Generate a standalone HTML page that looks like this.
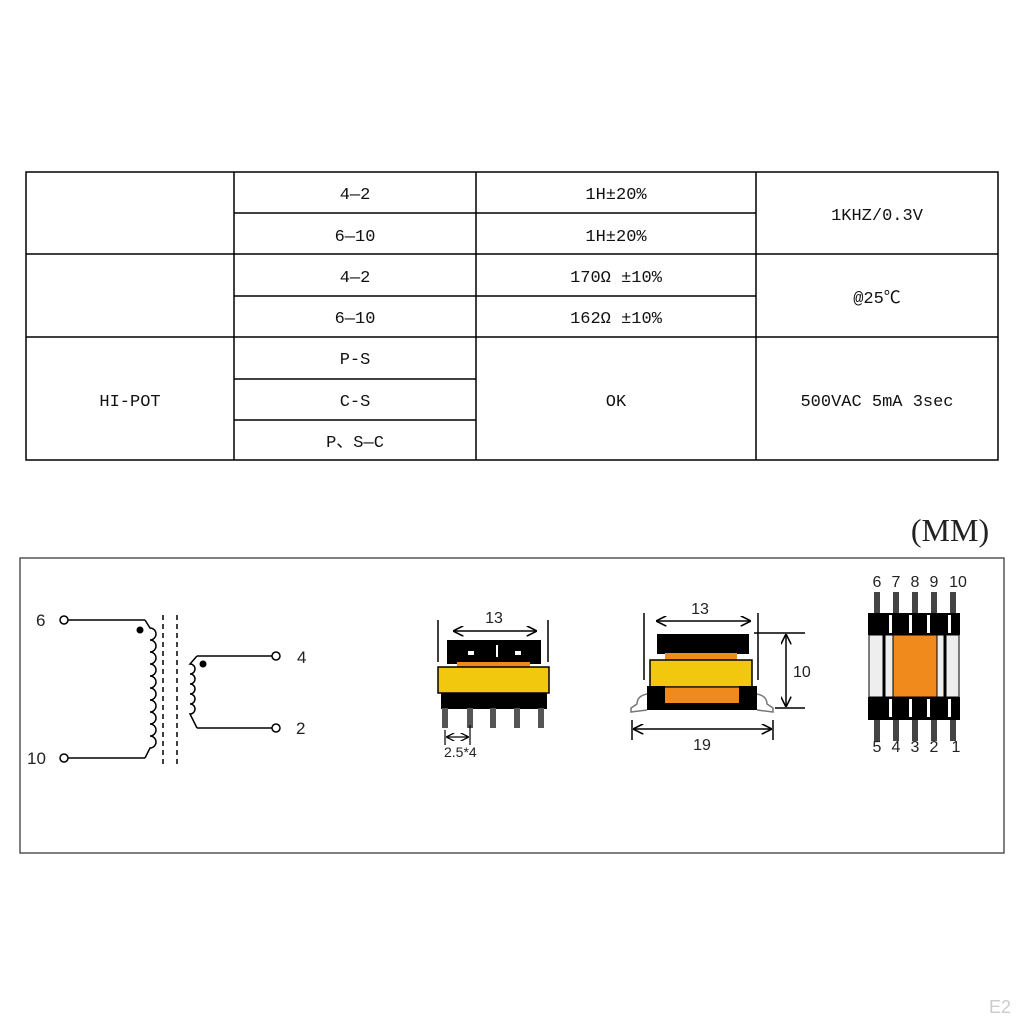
<!DOCTYPE html>
<html><head><style>
body{margin:0;background:#fff;}
svg text{font-family:"Liberation Mono","Noto Sans CJK SC",monospace;}
svg .s text, svg text.s{font-family:"Liberation Sans",sans-serif;}
</style></head><body>
<svg width="1024" height="1024" viewBox="0 0 1024 1024" xmlns="http://www.w3.org/2000/svg">
<defs>
<marker id="a" viewBox="0 0 10 10" refX="9" refY="5" markerWidth="7" markerHeight="7" orient="auto-start-reverse"><path d="M0,0 L10,5 L0,10" fill="none" stroke="#000" stroke-width="1.5"/></marker>
</defs>
<g stroke="#000" stroke-width="1.5" fill="none">
<rect x="26" y="172" width="972" height="288"/>
<line x1="234" y1="172" x2="234" y2="460"/>
<line x1="476" y1="172" x2="476" y2="460"/>
<line x1="756" y1="172" x2="756" y2="460"/>
<line x1="26" y1="254" x2="998" y2="254"/>
<line x1="26" y1="337" x2="998" y2="337"/>
<line x1="234" y1="213" x2="756" y2="213"/>
<line x1="234" y1="296" x2="756" y2="296"/>
<line x1="234" y1="379" x2="476" y2="379"/>
<line x1="234" y1="420" x2="476" y2="420"/>
</g>
<g font-size="17" text-anchor="middle" fill="#111">
<text x="355" y="199">4—2</text><text x="616" y="199">1H±20%</text>
<text x="355" y="241">6—10</text><text x="616" y="241">1H±20%</text>
<text x="877" y="220">1KHZ/0.3V</text>
<text x="355" y="282">4—2</text><text x="616" y="282">170Ω ±10%</text>
<text x="355" y="323">6—10</text><text x="616" y="323">162Ω ±10%</text>
<text x="877" y="303">@25℃</text>
<text x="355" y="364">P-S</text><text x="355" y="406">C-S</text><text x="355" y="447">P、S—C</text>
<text x="130" y="406">HI-POT</text><text x="616" y="406">OK</text><text x="877" y="406">500VAC 5mA 3sec</text>
</g>
<text x="950" y="541" text-anchor="middle" font-size="32" style="font-family:'Liberation Serif',serif" fill="#222">(MM)</text>
<rect x="20" y="558" width="984" height="295" fill="none" stroke="#555" stroke-width="1.5"/>

<g stroke="#000" stroke-width="1.5" fill="none">
<circle cx="64" cy="620" r="4"/><line x1="68" y1="620" x2="145" y2="620"/>
<circle cx="64" cy="758" r="4"/><line x1="68" y1="758" x2="145" y2="758"/>
<path d="M145,620 L150,628 a6,6 0 0 1 0,12 a6,6 0 0 1 0,12 a6,6 0 0 1 0,12 a6,6 0 0 1 0,12 a6,6 0 0 1 0,12 a6,6 0 0 1 0,12 a6,6 0 0 1 0,12 a6,6 0 0 1 0,12 a6,6 0 0 1 0,12 a6,6 0 0 1 0,12 L145,758"/>
<line x1="163" y1="615" x2="163" y2="765" stroke-dasharray="5,4"/>
<line x1="177" y1="615" x2="177" y2="765" stroke-dasharray="5,4"/>
<line x1="197" y1="656" x2="272" y2="656"/><circle cx="276" cy="656" r="4"/>
<line x1="197" y1="728" x2="272" y2="728"/><circle cx="276" cy="728" r="4"/>
<path d="M197,656 L190,664 a5,5 0 0 1 0,10 a5,5 0 0 1 0,10 a5,5 0 0 1 0,10 a5,5 0 0 1 0,10 a5,5 0 0 1 0,10 L197,728"/>
</g>
<circle cx="140" cy="630" r="3.5"/><circle cx="203" cy="664" r="3.5"/>
<g class="s" font-size="17" fill="#222">
<text x="36" y="626">6</text><text x="27" y="764">10</text><text x="297" y="663">4</text><text x="296" y="734">2</text>
</g>

<g stroke="#000" stroke-width="1.5">
<line x1="438" y1="620" x2="438" y2="662"/><line x1="548" y1="620" x2="548" y2="662"/>
<line x1="454" y1="631" x2="536" y2="631" marker-start="url(#a)" marker-end="url(#a)"/>
</g>
<rect x="447" y="640" width="94" height="24" fill="#000"/>
<rect x="468" y="651" width="6" height="4" fill="#fff"/><rect x="515" y="651" width="6" height="4" fill="#fff"/>
<rect x="496" y="645" width="2" height="12" fill="#fff"/>
<rect x="457" y="662" width="73" height="6" fill="#f08a1c"/>
<rect x="438" y="667" width="111" height="26" fill="#f2c80e" stroke="#000" stroke-width="1.5"/>
<rect x="441" y="693" width="106" height="16" fill="#000"/>
<g fill="#555">
<rect x="442" y="708" width="6" height="20"/><rect x="467" y="708" width="6" height="20"/><rect x="490" y="708" width="6" height="20"/><rect x="514" y="708" width="6" height="20"/><rect x="538" y="708" width="6" height="20"/>
</g>
<g stroke="#000" stroke-width="1.2"><line x1="445" y1="730" x2="445" y2="745"/><line x1="470" y1="725" x2="470" y2="745"/>
<line x1="447" y1="737" x2="468" y2="737" marker-start="url(#a)" marker-end="url(#a)"/></g>
<g class="s" fill="#222">
<text x="494" y="623" font-size="16" text-anchor="middle">13</text>
<text x="444" y="757" font-size="14">2.5*4</text>
</g>

<g stroke="#000" stroke-width="1.5">
<line x1="644" y1="613" x2="644" y2="680"/><line x1="758" y1="613" x2="758" y2="680"/>
<line x1="657" y1="621" x2="750" y2="621" marker-start="url(#a)" marker-end="url(#a)"/>
<line x1="754" y1="633" x2="805" y2="633"/><line x1="775" y1="708" x2="805" y2="708"/>
<line x1="786" y1="635" x2="786" y2="706" marker-start="url(#a)" marker-end="url(#a)"/>
<line x1="632" y1="720" x2="632" y2="740"/><line x1="773" y1="720" x2="773" y2="740"/>
<line x1="634" y1="729" x2="771" y2="729" marker-start="url(#a)" marker-end="url(#a)"/>
</g>
<rect x="657" y="634" width="92" height="20" fill="#000"/>
<rect x="665" y="653" width="72" height="8" fill="#f08a1c"/>
<rect x="650" y="660" width="102" height="27" fill="#f2c80e" stroke="#000" stroke-width="1.5"/>
<rect x="647" y="686" width="18" height="24" fill="#000"/><rect x="739" y="686" width="18" height="24" fill="#000"/>
<rect x="665" y="688" width="74" height="15" fill="#f08a1c"/><rect x="665" y="703" width="74" height="7" fill="#000"/>
<path d="M647,694 q-10,2 -10,10 l-6,4 l0,4 l16,-2" fill="none" stroke="#777" stroke-width="1.5"/>
<path d="M757,694 q10,2 10,10 l6,4 l0,4 l-16,-2" fill="none" stroke="#777" stroke-width="1.5"/>
<g class="s" fill="#222" font-size="16">
<text x="700" y="614" text-anchor="middle">13</text>
<text x="793" y="677">10</text>
<text x="702" y="750" text-anchor="middle">19</text>
</g>

<g fill="#444">
<rect x="874" y="592" width="6" height="22"/><rect x="893" y="592" width="6" height="22"/><rect x="912" y="592" width="6" height="22"/><rect x="931" y="592" width="6" height="22"/><rect x="950" y="592" width="6" height="22"/>
<rect x="874" y="719" width="6" height="22"/><rect x="893" y="719" width="6" height="22"/><rect x="912" y="719" width="6" height="22"/><rect x="931" y="719" width="6" height="22"/><rect x="950" y="719" width="6" height="22"/>
</g>
<rect x="868" y="613" width="92" height="22" fill="#000"/>
<rect x="868" y="697" width="92" height="23" fill="#000"/>
<rect x="869" y="635" width="90" height="62" fill="#eee" stroke="#000" stroke-width="1"/>
<line x1="884" y1="613" x2="884" y2="720" stroke="#000" stroke-width="3"/>
<line x1="945" y1="613" x2="945" y2="720" stroke="#000" stroke-width="3"/>
<g fill="#fff"><rect x="889" y="615" width="3" height="18"/><rect x="909" y="615" width="3" height="18"/><rect x="927" y="615" width="3" height="18"/><rect x="948" y="615" width="3" height="18"/>
<rect x="889" y="699" width="3" height="18"/><rect x="909" y="699" width="3" height="18"/><rect x="927" y="699" width="3" height="18"/><rect x="948" y="699" width="3" height="18"/></g>
<rect x="893" y="635" width="44" height="62" fill="#f08a1c" stroke="#000" stroke-width="1"/>
<g class="s" fill="#222" font-size="16" text-anchor="middle">
<text x="877" y="587">6</text><text x="896" y="587">7</text><text x="915" y="587">8</text><text x="934" y="587">9</text><text x="958" y="587">10</text>
<text x="877" y="752">5</text><text x="896" y="752">4</text><text x="915" y="752">3</text><text x="934" y="752">2</text><text x="956" y="752">1</text>
</g>
<text class="s" x="1000" y="1013" font-size="18" fill="#ccc" text-anchor="middle">E2</text>
</svg>
</body></html>
